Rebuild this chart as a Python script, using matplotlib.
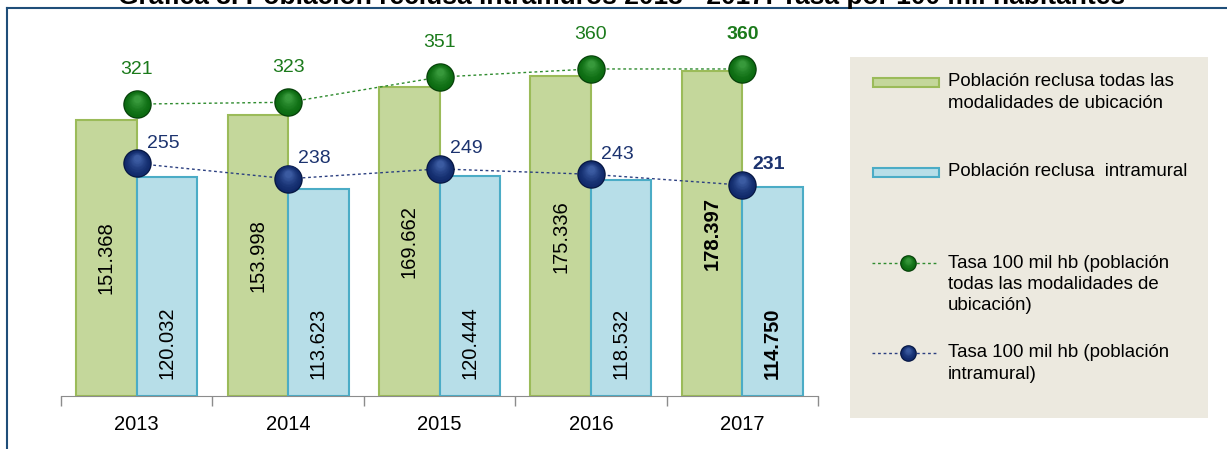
import numpy as np
import matplotlib
matplotlib.use("Agg")
import matplotlib.pyplot as plt
import matplotlib.colors as mcolors
import matplotlib.transforms as mtransforms
from matplotlib.lines import Line2D

plt.rcParams['font.family'] = ['Liberation Sans', 'DejaVu Sans']

# data
years = ["2013", "2014", "2015", "2016", "2017"]
pob_total = [151368, 153998, 169662, 175336, 178397]
pob_intra = [120032, 113623, 120444, 118532, 114750]
tasa_total = [321, 323, 351, 360, 360]
tasa_intra = [255, 238, 249, 243, 231]

lbl_total = ["151.368", "153.998", "169.662", "175.336", "178.397"]
lbl_intra = ["120.032", "113.623", "120.444", "118.532", "114.750"]

GREEN_FACE = '#c4d79b'
GREEN_EDGE = '#9bbb59'
BLUE_FACE = '#b7dee8'
BLUE_EDGE = '#4bacc6'
GREEN_TXT = '#1b7a1b'
BLUE_TXT = '#1c336f'

W, H = 1227, 449
fig = plt.figure(figsize=(W / 100, H / 100), dpi=100)

# outer frame (top + left)
fig.add_artist(Line2D([7 / W, 1], [1 - 8 / H, 1 - 8 / H], color='#1f4e79', lw=1.5))
fig.add_artist(Line2D([7 / W, 7 / W], [0, 1 - 8 / H], color='#1f4e79', lw=1.5))

fig.text(622 / W, 1 - 4 / H,
         "Gráfica 3. Población reclusa intramuros 2013 - 2017: Tasa por 100 mil habitantes",
         ha='center', va='baseline', fontsize=19, fontweight='bold')

ax = fig.add_axes([61 / W, 1 - 396 / H, (818 - 61) / W, (396 - 20) / H])
x = np.arange(len(years))
bw = 0.4
ax.bar(x - bw / 2, pob_total, bw, color=GREEN_FACE, edgecolor=GREEN_EDGE, linewidth=1.5, zorder=2)
ax.bar(x + bw / 2, pob_intra, bw, color=BLUE_FACE, edgecolor=BLUE_EDGE, linewidth=1.5, zorder=2)

for i in range(len(years)):
    bold = 'bold' if i == len(years) - 1 else 'normal'
    ax.text(x[i] - bw / 2, pob_total[i] / 2, lbl_total[i], rotation=90, ha='center', va='center',
            fontsize=14.5, fontweight=bold, zorder=3)
    ax.annotate(lbl_intra[i], (x[i] + bw / 2, 0), xytext=(0, 12), textcoords='offset points',
                rotation=90, ha='center', va='bottom', fontsize=14.5, fontweight=bold, zorder=3)

ax.set_xlim(-0.5, len(years) - 0.5)
ax.set_ylim(0, 206200)
ax.set_yticks([])
for s in ['top', 'right', 'left']:
    ax.spines[s].set_visible(False)
ax.spines['bottom'].set_color('#8c8c8c')
ax.set_xticks(x)
ax.set_xticklabels(years, fontsize=14.5)
ax.tick_params(axis='x', which='major', length=0, pad=14)
ax.set_xticks(np.arange(len(years) + 1) - 0.5, minor=True)
ax.tick_params(axis='x', which='minor', length=7, color='#8c8c8c', width=1)
ax.patch.set_alpha(0)

# rates on twin axis
ax2 = ax.twinx()
ax2.set_ylim(-3.3, 414.4)
ax2.axis('off')


def spheres(axis, xs, ys, c_edge, c_base, c_light, size, n=14):
    axis.plot(xs, ys, 'o', ms=size, color=c_base, mec=c_edge, mew=1, zorder=5)
    base = np.array(mcolors.to_rgb(c_base))
    light = np.array(mcolors.to_rgb(c_light))
    for k in range(1, n):
        f = k / n
        s = size * (1 - 0.8 * f)
        col = base + (light - base) * f ** 1.5
        tr = mtransforms.offset_copy(axis.transData, fig=fig, x=0, y=size * 0.2 * f, units='points')
        axis.plot(xs, ys, 'o', ms=s, color=col, mec='none', transform=tr, zorder=5 + k / n)


GREEN_SPH = ('#07420a', '#0b6a10', '#3c9e40')
BLUE_SPH = ('#071844', '#10296a', '#4061a8')

ax2.plot(x, tasa_total, color='#2e8b2e', lw=1, ls=(0, (2, 2)), zorder=4)
ax2.plot(x, tasa_intra, color='#2b3f80', lw=1, ls=(0, (2, 2)), zorder=4)
spheres(ax2, x, tasa_total, *GREEN_SPH, 19.5)
spheres(ax2, x, tasa_intra, *BLUE_SPH, 19.5)

for i in range(len(years)):
    bold = 'bold' if i == len(years) - 1 else 'normal'
    ax2.annotate(str(tasa_total[i]), (x[i], tasa_total[i]), xytext=(0, 25), textcoords='offset points',
                 ha='center', va='center', fontsize=14, color=GREEN_TXT, fontweight=bold)
    ax2.annotate(str(tasa_intra[i]), (x[i], tasa_intra[i]), xytext=(19, 14.5), textcoords='offset points',
                 ha='center', va='center', fontsize=14, color=BLUE_TXT, fontweight=bold)

# legend panel (pixel coordinates)
lg = fig.add_axes([850 / W, 1 - 418 / H, (1208 - 850) / W, (418 - 57) / H])
lg.set_xlim(850, 1208)
lg.set_ylim(418, 57)
lg.set_facecolor('#ece9df')
lg.set_xticks([])
lg.set_yticks([])
for s in lg.spines.values():
    s.set_visible(False)

lg.add_patch(plt.Rectangle((873, 78), 66, 9, facecolor=GREEN_FACE, edgecolor=GREEN_EDGE, lw=1.5))
lg.add_patch(plt.Rectangle((873, 168), 66, 9, facecolor=BLUE_FACE, edgecolor=BLUE_EDGE, lw=1.5))
lg.plot([872, 938], [263, 263], color='#2e8b2e', lw=1, ls=(0, (2, 2)))
spheres(lg, [908], [263], *GREEN_SPH, 11, n=8)
lg.plot([872, 938], [353, 353], color='#2b3f80', lw=1, ls=(0, (2, 2)))
spheres(lg, [908], [353], *BLUE_SPH, 11, n=8)

leg_fs = 13.4
lsp = 1.33
lg.text(948, 92.5, "Población reclusa todas las\nmodalidades de ubicación", va='center', ha='left',
        fontsize=leg_fs, linespacing=lsp)
lg.text(948, 172, "Población reclusa  intramural", va='center', ha='left', fontsize=leg_fs)
lg.text(948, 284.5, "Tasa 100 mil hb (población\ntodas las modalidades de\nubicación)", va='center',
        ha='left', fontsize=leg_fs, linespacing=lsp)
lg.text(948, 363.5, "Tasa 100 mil hb (población\nintramural)", va='center', ha='left',
        fontsize=leg_fs, linespacing=lsp)

fig.savefig("out.png", dpi=100)
